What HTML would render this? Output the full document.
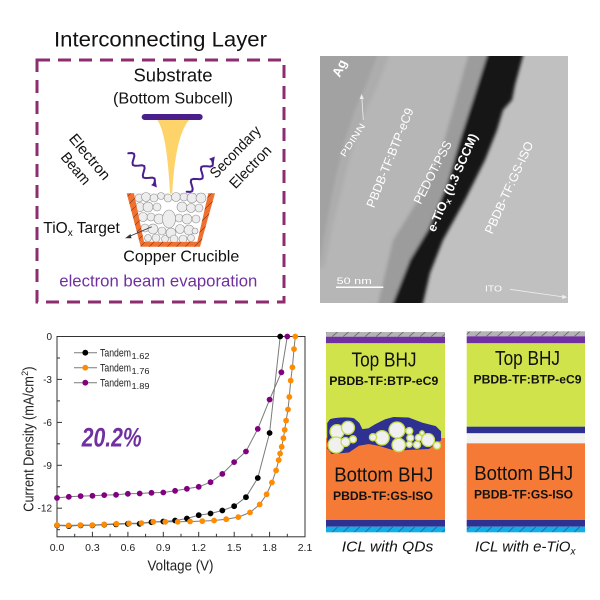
<!DOCTYPE html>
<html><head><meta charset="utf-8">
<style>html,body{margin:0;padding:0;background:#fff}svg{display:block}text{font-family:"Liberation Sans",sans-serif}</style>
</head>
<body>
<svg width="600" height="600" viewBox="0 0 600 600" xmlns="http://www.w3.org/2000/svg">
<defs>
<pattern id="hg" patternUnits="userSpaceOnUse" x="0" y="331.5" width="11" height="5.2"><rect width="11" height="5.2" fill="#b4b4b4"/><line x1="2" y1="5.2" x2="8" y2="0" stroke="#555" stroke-width="0.7"/></pattern>
<pattern id="hc" patternUnits="userSpaceOnUse" x="0" y="526.7" width="11" height="5.6"><rect width="11" height="5.6" fill="#12aee8"/><line x1="2" y1="5.6" x2="8" y2="0" stroke="#1b5c80" stroke-width="0.7"/></pattern>
<pattern id="ho" patternUnits="userSpaceOnUse" width="9" height="9"><rect width="9" height="9" fill="#f07030"/><line x1="0" y1="9" x2="9" y2="0" stroke="#7a3010" stroke-width="0.6"/></pattern>
<clipPath id="cin"><polygon points="133.3,189 209.2,189 197.3,241.7 144,241.7"/></clipPath>
<clipPath id="tem"><rect x="320" y="56" width="248" height="247"/></clipPath>
<filter id="bl" x="-10%" y="-10%" width="120%" height="120%"><feGaussianBlur stdDeviation="1.6"/></filter>
</defs>
<rect width="600" height="600" fill="#fff"/>

<!-- ===== Top-left panel ===== -->
<text x="54" y="46.7" font-size="21" fill="#111" textLength="213" lengthAdjust="spacingAndGlyphs">Interconnecting Layer</text>
<rect x="37" y="60" width="247" height="242" fill="none" stroke="#8d2d70" stroke-width="3" stroke-dasharray="13 8"/>
<text x="173" y="81.7" font-size="18" fill="#111" text-anchor="middle" textLength="79" lengthAdjust="spacingAndGlyphs">Substrate</text>
<text x="173" y="103.5" font-size="16" fill="#111" text-anchor="middle" textLength="120" lengthAdjust="spacingAndGlyphs">(Bottom Subcell)</text>
<path d="M156.7,119 C165,130 168.5,160 170.5,202 L171.8,202 C173.5,160 179,130 190,119 Z" fill="#fdd36a"/>
<rect x="141.7" y="114" width="61" height="6" rx="3" fill="#4a1f8c"/>
<polygon points="126.7,193.3 215,193.3 200,246.7 140.7,246.7" fill="url(#ho)"/>
<polygon points="134,193.3 208.3,193.3 197.3,241.7 144,241.7" fill="#fff"/>
<g clip-path="url(#cin)" fill="#ededed" stroke="#8a8a8a" stroke-width="0.6">
<circle cx="139" cy="198" r="4"/><circle cx="146" cy="197" r="4.5"/><circle cx="154" cy="198" r="4"/><circle cx="161" cy="196" r="3.5"/><circle cx="168" cy="198" r="4"/><circle cx="176" cy="197" r="4.5"/><circle cx="184" cy="197" r="4"/><circle cx="192" cy="198" r="5"/><circle cx="201" cy="198" r="5"/>
<circle cx="140" cy="207" r="4.5"/><circle cx="148" cy="207" r="5"/><circle cx="157" cy="207" r="4"/><circle cx="182" cy="207" r="5"/><circle cx="191" cy="208" r="4.5"/><circle cx="199" cy="208" r="4"/>
<circle cx="143" cy="217" r="4.5"/><circle cx="151" cy="217" r="4"/><circle cx="159" cy="219" r="5"/><circle cx="179" cy="218" r="4"/><circle cx="187" cy="219" r="5"/><circle cx="196" cy="219" r="4"/>
<ellipse cx="169" cy="219" rx="6.5" ry="9"/>
<circle cx="145" cy="228" r="4"/><circle cx="153" cy="229" r="5"/><circle cx="162" cy="231" r="4"/><circle cx="171" cy="233" r="5"/><circle cx="180" cy="229" r="4.5"/><circle cx="189" cy="230" r="5"/><circle cx="195" cy="231" r="3"/>
<circle cx="148" cy="238" r="3.5"/><circle cx="156" cy="238" r="4"/><circle cx="165" cy="239" r="3.5"/><circle cx="174" cy="239" r="4"/><circle cx="183" cy="239" r="4"/><circle cx="191" cy="238" r="3.5"/>
</g>
<polyline points="128.3,153.3 131.8,153.0 134.0,153.8 134.4,156.1 133.4,159.4 132.5,162.8 132.9,165.1 135.1,165.8 138.6,165.6 142.1,165.3 144.3,166.1 144.6,168.4 143.7,171.7 142.8,175.1 143.2,177.4 145.4,178.1 148.9,177.9 152.3,177.6 154.5,178.4 154.9,180.7 154.0,184.0" fill="none" stroke="#4b1e90" stroke-width="2" stroke-linejoin="round" stroke-linecap="round"/>
<polygon points="156.9,187.5 155.7,181.3 151.1,185.1" fill="#4b1e90"/>
<polyline points="186.7,191.7 190.2,191.9 192.3,191.0 192.7,188.7 191.8,185.4 190.8,182.1 191.2,179.7 193.4,178.9 196.8,179.0 200.3,179.2 202.5,178.4 202.8,176.0 201.9,172.7 200.9,169.4 201.3,167.0 203.5,166.2 206.9,166.3 210.4,166.6 212.6,165.7 212.9,163.3 212,160" fill="none" stroke="#4b1e90" stroke-width="2" stroke-linejoin="round" stroke-linecap="round"/>
<polygon points="214.8,156.5 213.8,162.7 209.0,158.9" fill="#4b1e90"/>
<text transform="translate(85.9,160.1) rotate(50)" font-size="15" fill="#111" text-anchor="middle" textLength="55" lengthAdjust="spacingAndGlyphs">Electron</text>
<text transform="translate(71.9,171.7) rotate(50)" font-size="15" fill="#111" text-anchor="middle" textLength="37" lengthAdjust="spacingAndGlyphs">Beam</text>
<text transform="translate(238.9,155.4) rotate(-46)" font-size="15" fill="#111" text-anchor="middle" textLength="66" lengthAdjust="spacingAndGlyphs">Secondary</text>
<text transform="translate(253.9,170.4) rotate(-46)" font-size="15" fill="#111" text-anchor="middle" textLength="53" lengthAdjust="spacingAndGlyphs">Electron</text>
<line x1="151.7" y1="226.7" x2="128" y2="237" stroke="#333" stroke-width="0.8"/>
<polygon points="125,238.3 130.5,234 131.5,238.3" fill="#333"/>
<text x="43.3" y="233" font-size="15.5" fill="#111">TiO<tspan font-size="10" dy="3">x</tspan><tspan dy="-3"> Target</tspan></text>
<text x="123.3" y="261.7" font-size="16" fill="#111" textLength="116" lengthAdjust="spacingAndGlyphs">Copper Crucible</text>
<text x="59.3" y="286.7" font-size="16.5" fill="#7030a0" textLength="198" lengthAdjust="spacingAndGlyphs">electron beam evaporation</text>

<!-- ===== TEM image ===== -->
<g clip-path="url(#tem)">
<rect x="320" y="56" width="248" height="247" fill="#c0c0c0"/>
<g filter="url(#bl)">
<polygon points="300,40 473,40 468,56 440,155 418,200 393,240 378,303 372,320 300,320" fill="#b6b6b6"/>
<polygon points="300,40 392,40 389,56 378,85 364,115 352,150 342,190 333,225 325,265 300,285" fill="#adadad"/>
<polygon points="300,40 380,40 377,56 368,80 355,110 345,140 335,180 327,220 320,260 300,280" fill="#a2a2a2"/>
<polygon points="473,40 468,56 440,155 418,200 393,240 378,303 372,320 388,320 393,303 410,260 428,230 447,185 460,140 473,100 487,56 492,40" fill="#9c9c9c"/>
<polygon points="492,40 487,56 473,100 460,140 447,185 428,230 410,260 393,303 388,320 418,320 423,303 430,273 443,240 465,200 485,160 497,130 503,110 512,100 515,85 523,56 527,40" fill="#131313"/>
</g>
</g>
<g fill="#fff">
<text transform="translate(343.4,70) rotate(-65)" font-size="13" font-weight="bold" text-anchor="middle">Ag</text>
<text transform="translate(355.2,141.7) rotate(-57)" font-size="9" text-anchor="middle" textLength="38" lengthAdjust="spacingAndGlyphs">PDINN</text>
<text transform="translate(393.9,159.3) rotate(-68)" font-size="12.5" text-anchor="middle" textLength="106" lengthAdjust="spacingAndGlyphs">PBDB-TF:BTP-eC9</text>
<text transform="translate(436.4,174.3) rotate(-63)" font-size="12.5" text-anchor="middle" textLength="69" lengthAdjust="spacingAndGlyphs">PEDOT:PSS</text>
<text transform="translate(456.4,184.3) rotate(-66)" font-size="12.5" font-weight="bold" text-anchor="middle">e-TiO<tspan font-size="8.5" dy="2.5">x</tspan><tspan dy="-2.5"> (0.3 SCCM)</tspan></text>
<text transform="translate(512.9,189.3) rotate(-65.5)" font-size="12.5" text-anchor="middle" textLength="100" lengthAdjust="spacingAndGlyphs">PBDB-TF:GS-ISO</text>
<text x="336.7" y="284" font-size="9" textLength="35" lengthAdjust="spacingAndGlyphs">50 nm</text>
<text x="485" y="291.5" font-size="8.5" textLength="17" lengthAdjust="spacingAndGlyphs">ITO</text>
</g>
<line x1="336" y1="287.3" x2="383.3" y2="287.3" stroke="#fff" stroke-width="1.5"/>
<line x1="363.3" y1="120" x2="361.8" y2="97" stroke="#eee" stroke-width="0.8"/>
<polygon points="361.6,94 359.6,99 363.8,99" fill="#eee"/>
<line x1="510" y1="289.3" x2="564" y2="297" stroke="#eee" stroke-width="0.8"/>
<polygon points="567.3,297.4 562.5,294.6 562,299" fill="#eee"/>

<!-- ===== Chart ===== -->
<rect x="57" y="336.5" width="248" height="200.3" fill="none" stroke="#333" stroke-width="1"/>
<g stroke="#333" stroke-width="1">
<line x1="57" y1="379.4" x2="62" y2="379.4"/><line x1="57" y1="422.4" x2="62" y2="422.4"/><line x1="57" y1="465.3" x2="62" y2="465.3"/><line x1="57" y1="508.2" x2="62" y2="508.2"/>
<line x1="57" y1="358" x2="60" y2="358"/><line x1="57" y1="400.9" x2="60" y2="400.9"/><line x1="57" y1="443.8" x2="60" y2="443.8"/><line x1="57" y1="486.8" x2="60" y2="486.8"/><line x1="57" y1="529.7" x2="60" y2="529.7"/>
<line x1="92.4" y1="536.8" x2="92.4" y2="531.8"/><line x1="127.9" y1="536.8" x2="127.9" y2="531.8"/><line x1="163.3" y1="536.8" x2="163.3" y2="531.8"/><line x1="198.7" y1="536.8" x2="198.7" y2="531.8"/><line x1="234.2" y1="536.8" x2="234.2" y2="531.8"/><line x1="269.6" y1="536.8" x2="269.6" y2="531.8"/>
<line x1="74.7" y1="536.8" x2="74.7" y2="533.8"/><line x1="110.1" y1="536.8" x2="110.1" y2="533.8"/><line x1="145.6" y1="536.8" x2="145.6" y2="533.8"/><line x1="181" y1="536.8" x2="181" y2="533.8"/><line x1="216.4" y1="536.8" x2="216.4" y2="533.8"/><line x1="251.9" y1="536.8" x2="251.9" y2="533.8"/><line x1="287.3" y1="536.8" x2="287.3" y2="533.8"/>
</g>
<g font-size="10" fill="#222" text-anchor="end">
<text x="52" y="340">0</text><text x="52" y="382.9">-3</text><text x="52" y="425.9">-6</text><text x="52" y="468.8">-9</text><text x="52" y="511.7">-12</text>
</g>
<g font-size="10.5" fill="#222" text-anchor="middle">
<text x="57" y="551">0.0</text><text x="92.4" y="551">0.3</text><text x="127.9" y="551">0.6</text><text x="163.3" y="551">0.9</text><text x="198.7" y="551">1.2</text><text x="234.2" y="551">1.5</text><text x="269.6" y="551">1.8</text><text x="305" y="551">2.1</text>
</g>
<text x="180.5" y="570.5" font-size="15" fill="#222" text-anchor="middle" textLength="66" lengthAdjust="spacingAndGlyphs">Voltage (V)</text>
<g transform="translate(33.3,511.7) rotate(-90)" fill="#222">
<text x="0" y="0" font-size="14.5" textLength="135.5" lengthAdjust="spacingAndGlyphs">Current Density (mA/cm</text>
<text x="135.8" y="-5.5" font-size="9">2</text>
<text x="140.8" y="0" font-size="14.5" textLength="4.5" lengthAdjust="spacingAndGlyphs">)</text>
</g>
<g fill="none" stroke="#7a7a7a" stroke-width="1" stroke-linejoin="round">
<polyline points="57,525.4 68.81,526.1 80.62,525.4 92.43,525.4 104.24,524.7 116.05,524.4 127.86,523.8 139.67,523.8 151.48,522.2 163.29,521.5 175.1,520.5 186.91,518.5 198.72,515.2 210.53,513.5 222.34,510.5 234.15,506.2 245.96,497.2 257.77,478 269.58,433 280.2,336.5"/>
<polyline points="57,525.1 68.7,525.4 80.4,525.1 92.3,525.1 104.2,524.4 116.4,523.8 129,523.4 141.4,523.1 153.3,521.8 165.3,521.8 177.7,521.8 190,521.5 202.3,521.1 214.1,520.5 226.2,519.2 238.3,517.1 250,512.5 259.7,504.5 266.6,494.3 271.9,482.5 276.1,470.4 278.7,460.1 280.1,453.6 281.7,446.8 283.4,438.2 284.7,429.9 286.1,420.6 288,409.5 289.3,396.9 290.7,380.6 292.4,367.3 294,349.1 295.3,336.5"/>
<polyline points="57,497.9 68.81,496.8 80.62,496.1 92.43,495.8 104.24,495.1 116.05,494.8 127.86,493.8 139.67,493.5 151.48,492.8 163.29,492.5 175.1,490.8 186.91,488.8 198.72,486.8 210.53,482.2 222.34,473.9 234.15,462.1 245.96,451.5 257.77,428.9 269.58,399.6 281.39,372.3 287.3,336.5"/>
</g>
<g fill="#000">
<circle cx="57" cy="525.4" r="2.9"/><circle cx="68.81" cy="526.1" r="2.9"/><circle cx="80.62" cy="525.4" r="2.9"/><circle cx="92.43" cy="525.4" r="2.9"/><circle cx="104.24" cy="524.7" r="2.9"/><circle cx="116.05" cy="524.4" r="2.9"/><circle cx="127.86" cy="523.8" r="2.9"/><circle cx="139.67" cy="523.8" r="2.9"/><circle cx="151.48" cy="522.2" r="2.9"/><circle cx="163.29" cy="521.5" r="2.9"/><circle cx="175.1" cy="520.5" r="2.9"/><circle cx="186.91" cy="518.5" r="2.9"/><circle cx="198.72" cy="515.2" r="2.9"/><circle cx="210.53" cy="513.5" r="2.9"/><circle cx="222.34" cy="510.5" r="2.9"/><circle cx="234.15" cy="506.2" r="2.9"/><circle cx="245.96" cy="497.2" r="2.9"/><circle cx="257.77" cy="478" r="2.9"/><circle cx="269.58" cy="433" r="2.9"/><circle cx="280.2" cy="336.5" r="2.9"/>
</g>
<g fill="#ff8c00">
<circle cx="57" cy="525.1" r="2.9"/><circle cx="68.7" cy="525.4" r="2.9"/><circle cx="80.4" cy="525.1" r="2.9"/><circle cx="92.3" cy="525.1" r="2.9"/><circle cx="104.2" cy="524.4" r="2.9"/><circle cx="116.4" cy="523.8" r="2.9"/><circle cx="129" cy="523.4" r="2.9"/><circle cx="141.4" cy="523.1" r="2.9"/><circle cx="153.3" cy="521.8" r="2.9"/><circle cx="165.3" cy="521.8" r="2.9"/><circle cx="177.7" cy="521.8" r="2.9"/><circle cx="190" cy="521.5" r="2.9"/><circle cx="202.3" cy="521.1" r="2.9"/><circle cx="214.1" cy="520.5" r="2.9"/><circle cx="226.2" cy="519.2" r="2.9"/><circle cx="238.3" cy="517.1" r="2.9"/><circle cx="250" cy="512.5" r="2.9"/><circle cx="259.7" cy="504.5" r="2.9"/><circle cx="266.6" cy="494.3" r="2.9"/><circle cx="271.9" cy="482.5" r="2.9"/><circle cx="276.1" cy="470.4" r="2.9"/><circle cx="278.7" cy="460.1" r="2.9"/><circle cx="280.1" cy="453.6" r="2.9"/><circle cx="281.7" cy="446.8" r="2.9"/><circle cx="283.4" cy="438.2" r="2.9"/><circle cx="284.7" cy="429.9" r="2.9"/><circle cx="286.1" cy="420.6" r="2.9"/><circle cx="288" cy="409.5" r="2.9"/><circle cx="289.3" cy="396.9" r="2.9"/><circle cx="290.7" cy="380.6" r="2.9"/><circle cx="292.4" cy="367.3" r="2.9"/><circle cx="294" cy="349.1" r="2.9"/><circle cx="295.3" cy="336.5" r="2.9"/>
</g>
<g fill="#800080">
<circle cx="57" cy="497.9" r="2.9"/><circle cx="68.81" cy="496.8" r="2.9"/><circle cx="80.62" cy="496.1" r="2.9"/><circle cx="92.43" cy="495.8" r="2.9"/><circle cx="104.24" cy="495.1" r="2.9"/><circle cx="116.05" cy="494.8" r="2.9"/><circle cx="127.86" cy="493.8" r="2.9"/><circle cx="139.67" cy="493.5" r="2.9"/><circle cx="151.48" cy="492.8" r="2.9"/><circle cx="163.29" cy="492.5" r="2.9"/><circle cx="175.1" cy="490.8" r="2.9"/><circle cx="186.91" cy="488.8" r="2.9"/><circle cx="198.72" cy="486.8" r="2.9"/><circle cx="210.53" cy="482.2" r="2.9"/><circle cx="222.34" cy="473.9" r="2.9"/><circle cx="234.15" cy="462.1" r="2.9"/><circle cx="245.96" cy="451.5" r="2.9"/><circle cx="257.77" cy="428.9" r="2.9"/><circle cx="269.58" cy="399.6" r="2.9"/><circle cx="281.39" cy="372.3" r="2.9"/><circle cx="287.3" cy="336.5" r="2.9"/>
</g>
<g stroke="#7a7a7a" stroke-width="1">
<line x1="74" y1="352.7" x2="97" y2="352.7"/><line x1="74" y1="367.7" x2="97" y2="367.7"/><line x1="74" y1="382.7" x2="97" y2="382.7"/>
</g>
<circle cx="85.3" cy="352.7" r="2.9" fill="#000"/>
<circle cx="85.3" cy="367.7" r="2.9" fill="#ff8c00"/>
<circle cx="85.3" cy="382.7" r="2.9" fill="#800080"/>
<g fill="#222">
<text x="100" y="356.5" font-size="11" textLength="31" lengthAdjust="spacingAndGlyphs">Tandem</text>
<text x="131.5" y="359" font-size="8" textLength="18" lengthAdjust="spacingAndGlyphs">1.62</text>
<text x="100" y="371.5" font-size="11" textLength="31" lengthAdjust="spacingAndGlyphs">Tandem</text>
<text x="131.5" y="374" font-size="8" textLength="18" lengthAdjust="spacingAndGlyphs">1.76</text>
<text x="100" y="386.5" font-size="11" textLength="31" lengthAdjust="spacingAndGlyphs">Tandem</text>
<text x="131.5" y="389" font-size="8" textLength="18" lengthAdjust="spacingAndGlyphs">1.89</text>
</g>
<text x="81.7" y="446.7" font-size="27" font-weight="bold" font-style="italic" fill="#7030a0" textLength="60" lengthAdjust="spacingAndGlyphs">20.2%</text>

<!-- ===== Device stacks ===== -->
<rect x="326" y="332" width="119" height="4.7" fill="url(#hg)"/>
<rect x="326" y="336.7" width="119" height="6.6" fill="#7030a0"/>
<rect x="326" y="343.3" width="119" height="95" fill="#d0e34b"/>
<rect x="326" y="438" width="119" height="82" fill="#f47a35"/>
<rect x="326" y="520" width="119" height="6.7" fill="#2e3192"/>
<rect x="326" y="526.7" width="119" height="5.6" fill="url(#hc)"/>
<path d="M328,423.3 L330.3,420 C335,418 348,417.5 353.7,419 L358.7,423.3 L362,430 L368.7,429 L375.3,425 L385.3,420 L393.7,417.7 L408.7,418.3 L422,423.3 L435.3,426.7 L440.3,431.7 L440.3,440 L435.3,443.3 L428.7,448.3 L412,449 L395.3,450 L378.7,445 L368.7,443.3 L358.7,445 L348.7,451.7 L332,453.3 L328,448.3 Z" fill="#2e3192" stroke="#2e3192" stroke-width="1.5" stroke-linejoin="round"/>
<g fill="#f0f0f0" stroke="#c5dc4a" stroke-width="1.3">
<circle cx="337" cy="431.7" r="7"/><circle cx="348" cy="427.8" r="6.5"/><circle cx="336" cy="445" r="8"/><circle cx="345.5" cy="442" r="4.5"/><circle cx="353" cy="439.3" r="3.5"/>
<circle cx="382" cy="437.8" r="7.2"/><circle cx="373" cy="437.3" r="3.6"/><circle cx="397" cy="430" r="8"/><circle cx="398.7" cy="445" r="6.7"/><circle cx="409.3" cy="431" r="3.5"/><circle cx="410.3" cy="438" r="3.5"/><circle cx="418.7" cy="437.7" r="3.3"/><circle cx="409.3" cy="444.3" r="3"/><circle cx="417" cy="444.8" r="3.6"/><circle cx="428" cy="440" r="6.5"/><circle cx="437" cy="445.5" r="3.6"/><circle cx="422" cy="433" r="2.2"/>
</g>
<g fill="#111">
<text x="384" y="366.7" font-size="20" text-anchor="middle" textLength="65" lengthAdjust="spacingAndGlyphs">Top BHJ</text>
<text x="383.8" y="385" font-size="11.5" font-weight="bold" text-anchor="middle" textLength="109" lengthAdjust="spacingAndGlyphs">PBDB-TF:BTP-eC9</text>
<text x="383.7" y="481.7" font-size="20" text-anchor="middle" textLength="99" lengthAdjust="spacingAndGlyphs">Bottom BHJ</text>
<text x="383" y="500" font-size="11.5" font-weight="bold" text-anchor="middle" textLength="100" lengthAdjust="spacingAndGlyphs">PBDB-TF:GS-ISO</text>
<text x="387.5" y="551.7" font-size="15" font-style="italic" text-anchor="middle" textLength="91.5" lengthAdjust="spacingAndGlyphs">ICL with QDs</text>
</g>
<rect x="466.7" y="331.3" width="118.3" height="5" fill="url(#hg)"/>
<rect x="466.7" y="336.3" width="118.3" height="7" fill="#7030a0"/>
<rect x="466.7" y="343.3" width="118.3" height="83.4" fill="#d0e34b"/>
<rect x="466.7" y="426.7" width="118.3" height="6.6" fill="#2e3192"/>
<rect x="466.7" y="433.3" width="118.3" height="10" fill="#f2f2f2"/>
<rect x="466.7" y="443.3" width="118.3" height="76.7" fill="#f47a35"/>
<rect x="466.7" y="520" width="118.3" height="6.7" fill="#2e3192"/>
<rect x="466.7" y="526.7" width="118.3" height="5.6" fill="url(#hc)"/>
<g fill="#111">
<text x="527.5" y="365" font-size="20" text-anchor="middle" textLength="65" lengthAdjust="spacingAndGlyphs">Top BHJ</text>
<text x="527.5" y="383.3" font-size="11.5" font-weight="bold" text-anchor="middle" textLength="108" lengthAdjust="spacingAndGlyphs">PBDB-TF:BTP-eC9</text>
<text x="523.7" y="480" font-size="20" text-anchor="middle" textLength="99" lengthAdjust="spacingAndGlyphs">Bottom BHJ</text>
<text x="523.5" y="498.3" font-size="11.5" font-weight="bold" text-anchor="middle" textLength="99" lengthAdjust="spacingAndGlyphs">PBDB-TF:GS-ISO</text>
<text x="475" y="551.7" font-size="15" font-style="italic">ICL with e-TiO<tspan font-size="10" dy="3">x</tspan></text>
</g>
</svg>
</body></html>
